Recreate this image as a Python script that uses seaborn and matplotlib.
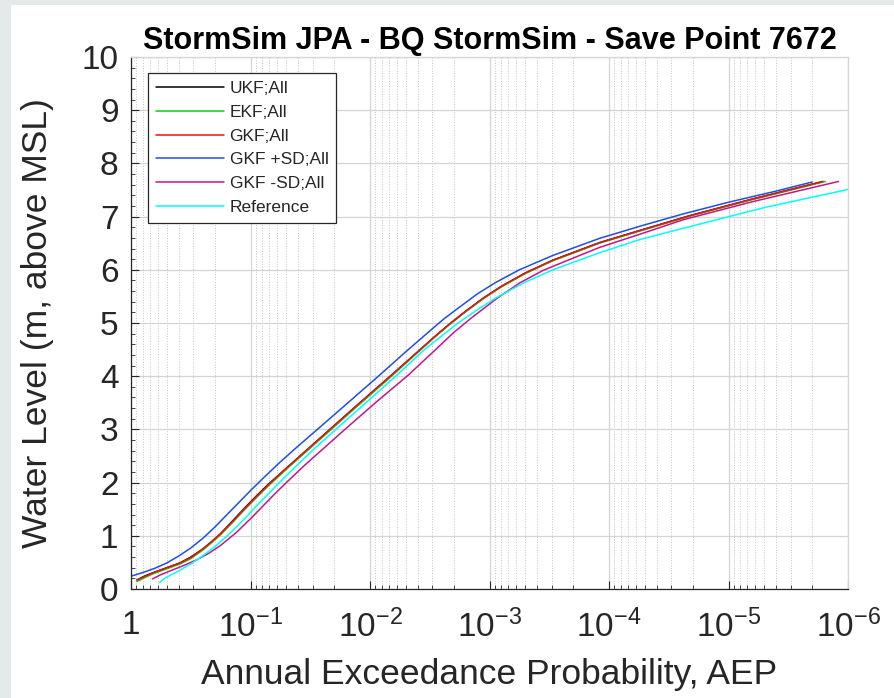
import matplotlib
matplotlib.use("Agg")
import matplotlib.pyplot as plt
from matplotlib.patches import Rectangle
from matplotlib.ticker import LogLocator, NullFormatter, MultipleLocator
import seaborn as sns
import pandas as pd
import numpy as np

# ---------------- data ----------------
# AEP is stored as its decade exponent: AEP = 10 ** (-exp)
gkf_exp = [0.05, 0.12, 0.19, 0.30, 0.41, 0.50, 0.60, 0.68, 0.75, 0.85, 0.95, 1.05, 1.15, 1.30, 1.48, 1.665,
           1.90, 2.17, 2.40, 2.55, 2.66, 2.80, 2.95, 3.10, 3.30, 3.53, 3.92, 4.26, 4.68, 5.20, 5.79]
gkf_wl  = [0.17, 0.24, 0.31, 0.40, 0.49, 0.59, 0.75, 0.90, 1.04, 1.27, 1.51, 1.74, 1.96, 2.27, 2.63, 3.00,
           3.47, 4.00, 4.46, 4.76, 4.97, 5.22, 5.47, 5.69, 5.94, 6.18, 6.51, 6.74, 7.02, 7.33, 7.66]

ukf_exp = [0.05, 0.12, 0.19, 0.30, 0.41, 0.50, 0.60, 0.68, 0.75, 0.85, 0.95, 1.05, 1.15, 1.30, 1.48, 1.665,
           1.90, 2.17, 2.40, 2.55, 2.66, 2.80, 2.95, 3.10, 3.30, 3.53, 3.92, 4.26, 4.68, 5.20, 5.79]
ukf_wl  = [0.17, 0.25, 0.31, 0.40, 0.49, 0.60, 0.75, 0.90, 1.04, 1.28, 1.52, 1.75, 1.97, 2.27, 2.63, 3.00,
           3.47, 4.00, 4.46, 4.76, 4.97, 5.22, 5.47, 5.69, 5.94, 6.18, 6.51, 6.74, 7.02, 7.33, 7.66]

ekf_exp = [0.05, 0.12, 0.19, 0.30, 0.41, 0.50, 0.60, 0.68, 0.75, 0.85, 0.95, 1.05, 1.15, 1.30, 1.48, 1.665,
           1.90, 2.17, 2.40, 2.55, 2.66, 2.80, 2.95, 3.10, 3.30, 3.53, 3.92, 4.26, 4.68, 5.20, 5.81]
ekf_wl  = [0.14, 0.22, 0.29, 0.38, 0.47, 0.57, 0.73, 0.88, 1.02, 1.25, 1.49, 1.72, 1.94, 2.25, 2.61, 2.98,
           3.45, 3.98, 4.45, 4.75, 4.96, 5.21, 5.46, 5.68, 5.93, 6.17, 6.50, 6.73, 7.01, 7.32, 7.66]

gkf_p_exp = [0.00, 0.10, 0.20, 0.30, 0.40, 0.50, 0.60, 0.70, 0.80, 0.90, 1.00, 1.10, 1.25, 1.40, 1.57, 1.80,
             2.07, 2.30, 2.50, 2.62, 2.75, 2.90, 3.05, 3.25, 3.53, 3.92, 4.26, 4.62, 5.00, 5.40, 5.70]
gkf_p_wl  = [0.24, 0.31, 0.39, 0.49, 0.62, 0.77, 0.95, 1.16, 1.39, 1.62, 1.85, 2.07, 2.39, 2.69, 3.02, 3.47,
             4.00, 4.46, 4.85, 5.08, 5.30, 5.55, 5.76, 6.00, 6.27, 6.59, 6.82, 7.05, 7.27, 7.48, 7.65]

gkf_m_exp = [0.18, 0.25, 0.35, 0.45, 0.55, 0.65, 0.75, 0.88, 1.00, 1.10, 1.20, 1.30, 1.45, 1.60, 1.79, 2.05,
             2.32, 2.53, 2.70, 2.84, 3.06, 3.25, 3.45, 3.70, 3.92, 4.26, 4.62, 5.20, 5.92]
gkf_m_wl  = [0.19, 0.27, 0.36, 0.45, 0.55, 0.67, 0.82, 1.06, 1.32, 1.55, 1.78, 2.00, 2.32, 2.62, 3.00, 3.51,
             4.02, 4.46, 4.82, 5.08, 5.46, 5.75, 5.99, 6.22, 6.42, 6.67, 6.94, 7.28, 7.66]

ref_exp = [0.24, 0.28, 0.33, 0.40, 0.50, 0.61, 0.72, 0.83, 0.95, 1.05, 1.15, 1.25, 1.40, 1.55, 1.72, 1.97,
           2.22, 2.45, 2.73, 2.90, 3.06, 3.30, 3.53, 3.92, 4.26, 4.62, 5.30, 6.00]
ref_wl  = [0.12, 0.20, 0.26, 0.34, 0.47, 0.64, 0.83, 1.05, 1.32, 1.56, 1.79, 2.02, 2.35, 2.67, 3.01, 3.51,
           4.01, 4.49, 4.99, 5.25, 5.48, 5.77, 6.00, 6.32, 6.57, 6.78, 7.17, 7.51]

series_names = ["UKF;All", "EKF;All", "GKF;All", "GKF +SD;All", "GKF -SD;All", "Reference"]
series_colors = ["#000000", "#14c814", "#f01010", "#1e4ee6", "#c8148c", "#00ffff"]

title = "StormSim JPA - BQ StormSim - Save Point 7672"
x_label = "Annual Exceedance Probability, AEP"
y_label = "Water Level (m, above MSL)"
x_tick_vals = [1, 1e-1, 1e-2, 1e-3, 1e-4, 1e-5, 1e-6]
x_tick_labels = ["1", r"$10^{-1}$", r"$10^{-2}$", r"$10^{-3}$", r"$10^{-4}$", r"$10^{-5}$", r"$10^{-6}$"]

# ---------------- build table ----------------
all_exp = [ukf_exp, ekf_exp, gkf_exp, gkf_p_exp, gkf_m_exp, ref_exp]
all_wl = [ukf_wl, ekf_wl, gkf_wl, gkf_p_wl, gkf_m_wl, ref_wl]
frames = []
for name, e, w in zip(series_names, all_exp, all_wl):
    frames.append(pd.DataFrame({"AEP": 10.0 ** (-np.asarray(e)), "WL": w, "series": name}))
df = pd.concat(frames, ignore_index=True)

# ---------------- style ----------------
sns.set_theme(style="white")
plt.rcParams["font.family"] = ["Liberation Sans", "DejaVu Sans"]
plt.rcParams["mathtext.fontset"] = "custom"
plt.rcParams["mathtext.rm"] = "Liberation Sans"
plt.rcParams["mathtext.it"] = "Liberation Sans:italic"
plt.rcParams["mathtext.bf"] = "Liberation Sans:bold"
plt.rcParams["mathtext.sf"] = "Liberation Sans"

fig = plt.figure(figsize=(8.94, 6.98), dpi=100)
fig.patch.set_facecolor("#e5e9e9")
fig.patches.append(Rectangle((11 / 894, 0), 1, 1 - 5 / 698, transform=fig.transFigure,
                             facecolor="white", edgecolor="none", zorder=-10))
ax = fig.add_axes([131 / 894, (698 - 589) / 698, (848 - 131) / 894, (589 - 57) / 698])

palette = dict(zip(series_names, series_colors))
sns.lineplot(data=df, x="AEP", y="WL", hue="series", hue_order=series_names,
             palette=palette, estimator=None, sort=False, linewidth=1.1, ax=ax)

ax.set_xscale("log")
ax.set_xlim(1, 1e-6)
ax.set_ylim(0, 10)

ax.set_xticks(x_tick_vals)
ax.set_xticklabels(x_tick_labels)
ax.xaxis.set_minor_locator(LogLocator(base=10, subs=range(2, 10), numticks=30))
ax.xaxis.set_minor_formatter(NullFormatter())
ax.yaxis.set_major_locator(MultipleLocator(1))
ax.yaxis.set_minor_locator(MultipleLocator(0.2))

ax.grid(which="major", color="#d4d4d4", linewidth=0.9, linestyle="-")
ax.grid(which="minor", axis="x", color="#c4c4c4", linewidth=0.7, linestyle=":")
ax.set_axisbelow(True)

ax.tick_params(which="both", direction="in", colors="#262626", bottom=True, left=True, top=False, right=False)
ax.tick_params(which="major", length=6, width=0.8, labelsize=24, labelcolor="#262626")
ax.tick_params(which="minor", length=3, width=0.6)
ax.tick_params(axis="x", which="major", pad=15)
ax.tick_params(axis="y", which="major", pad=9)

for s in ["left", "bottom"]:
    ax.spines[s].set_color("#262626")
    ax.spines[s].set_linewidth(0.9)
for s in ["top", "right"]:
    ax.spines[s].set_color("#d4d4d4")
    ax.spines[s].set_linewidth(0.9)

ax.set_xlabel(x_label, fontsize=25.5, color="#262626", labelpad=10)
ax.set_ylabel(y_label, fontsize=25.5, color="#262626", labelpad=20)
ax.set_title(title, fontsize=22, fontweight="bold", color="black", pad=6)

handles, labels = ax.get_legend_handles_labels()
leg = ax.legend(handles, labels, loc="upper left", bbox_to_anchor=(0.0237, 0.970),
                borderaxespad=0, fontsize=12.5, frameon=True, fancybox=False,
                framealpha=1, edgecolor="#262626", handlelength=3.9,
                handletextpad=0.35, labelspacing=0.5, borderpad=0.45)
leg.get_frame().set_linewidth(0.9)
for t in leg.get_texts():
    t.set_color("#262626")
for l in leg.get_lines():
    l.set_linewidth(1.1)

fig.savefig("out.png", dpi=100, facecolor=fig.get_facecolor())
